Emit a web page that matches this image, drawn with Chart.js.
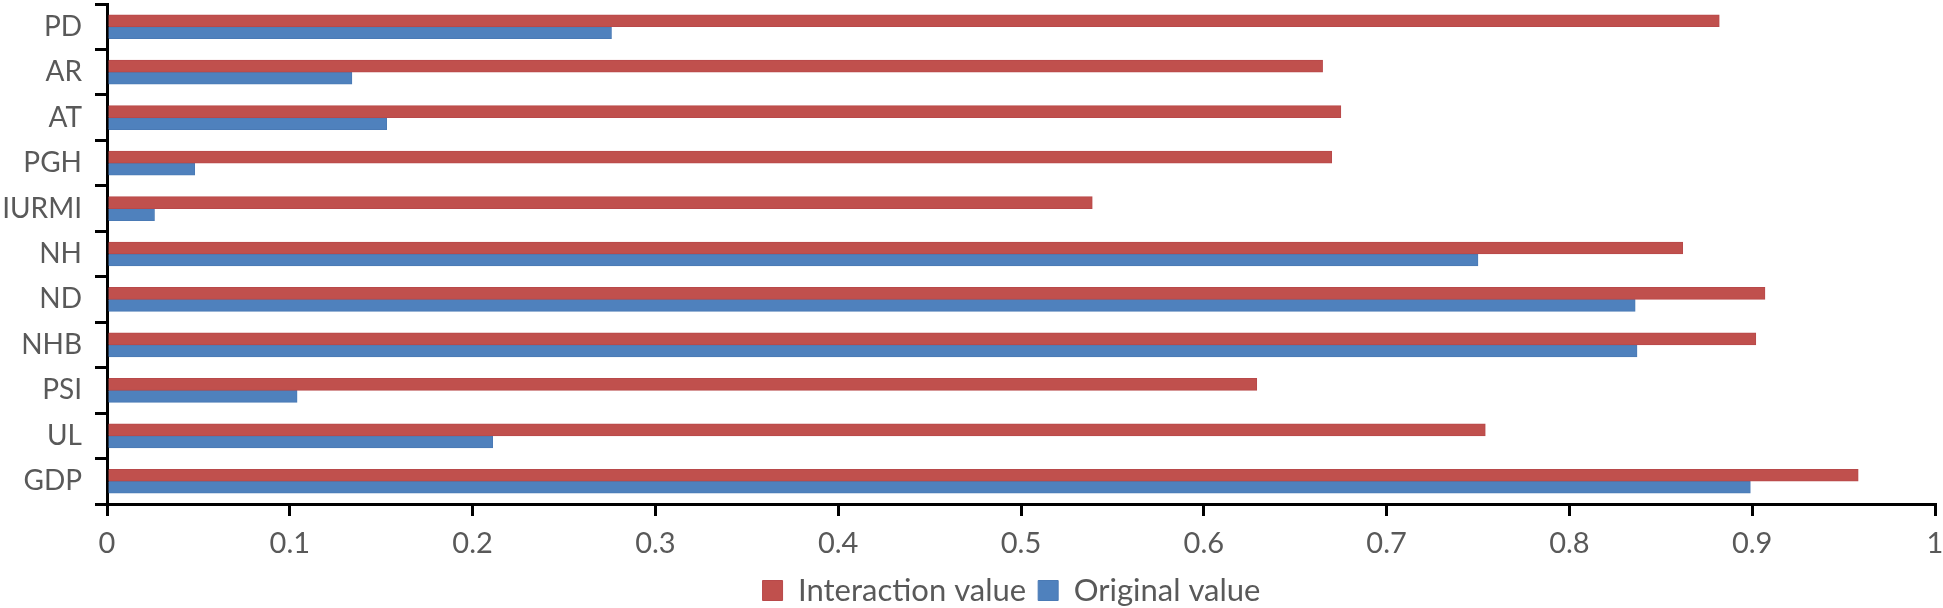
<!DOCTYPE html>
<html>
<head>
<meta charset="utf-8">
<script src="https://cdn.jsdelivr.net/npm/chart.js@4"></script>
<style>
  html, body { margin: 0; padding: 0; background: #fff; }
  #wrap { width: 1943px; height: 608px; }
</style>
</head>
<body>
<div id="wrap"><canvas id="factorChart"></canvas></div>
<script>
var labels = ['PD', 'AR', 'AT', 'PGH', 'IURMI', 'NH', 'ND', 'NHB', 'PSI', 'UL', 'GDP'];
var interactionValues = [0.882, 0.665, 0.675, 0.670, 0.539, 0.862, 0.907, 0.902, 0.629, 0.754, 0.958];
var originalValues = [0.276, 0.134, 0.153, 0.048, 0.026, 0.750, 0.836, 0.837, 0.104, 0.211, 0.899];

var textColor = '#595959';
var fontFamily = 'Lato, "Open Sans", sans-serif';

var data = {
  labels: labels,
  datasets: [
    {
      label: 'Interaction value',
      data: interactionValues,
      backgroundColor: '#C0504D',
      borderColor: '#B8494A',
      borderWidth: 1,
      barThickness: 12,
    },
    {
      label: 'Original value',
      data: originalValues,
      backgroundColor: '#4F81BD',
      borderColor: '#4A7AB5',
      borderWidth: 1,
      barThickness: 12,
    },
  ],
};

// nudge the legend so it sits centred under the plot, like the original
var legendNudge = {
  id: 'legendNudge',
  afterLayout: function (chart) {
    var lg = chart.legend;
    if (!lg) return;
    lg.left += 44;
    lg.right += 44;
    lg.top += 8;
    lg.bottom += 8;
  },
};

var config = {
  type: 'bar',
  data: data,
  plugins: [legendNudge],
  options: {
    indexAxis: 'y',
    responsive: false,
    animation: false,
    layout: {
      padding: { top: 4, right: 8, left: 0, bottom: 0 },
    },
    scales: {
      x: {
        min: 0,
        max: 1,
        ticks: {
          stepSize: 0.1,
          color: textColor,
          font: { family: fontFamily, size: 29 },
          padding: 10,
          maxRotation: 0,
          callback: function (v) { return String(Math.round(v * 10) / 10); },
        },
        grid: {
          drawOnChartArea: false,
          drawTicks: true,
          tickLength: 12,
          color: '#000',
          lineWidth: 3,
        },
        border: { color: '#000', width: 3 },
        afterFit: function (scale) {
          scale.height = 51;
          scale.paddingLeft = 0;
          scale.paddingRight = 0;
        },
      },
      y: {
        ticks: {
          color: textColor,
          font: { family: fontFamily, size: 28 },
          padding: 13,
        },
        grid: {
          drawOnChartArea: false,
          drawTicks: true,
          tickLength: 12,
          color: '#000',
          lineWidth: 3,
        },
        border: { color: '#000', width: 3 },
        afterFit: function (scale) {
          scale.width = 107;
          scale.paddingTop = 0;
          scale.paddingBottom = 0;
        },
      },
    },
    plugins: {
      legend: {
        position: 'bottom',
        labels: {
          color: textColor,
          font: { family: fontFamily, size: 31 },
          boxWidth: 20,
          boxHeight: 20,
          padding: 12,
        },
      },
      tooltip: { enabled: false },
    },
  },
};

var canvas = document.getElementById('factorChart');
canvas.width = 1943;
canvas.height = 608;
var myChart = new Chart(canvas, config);
</script>
</body>
</html>
